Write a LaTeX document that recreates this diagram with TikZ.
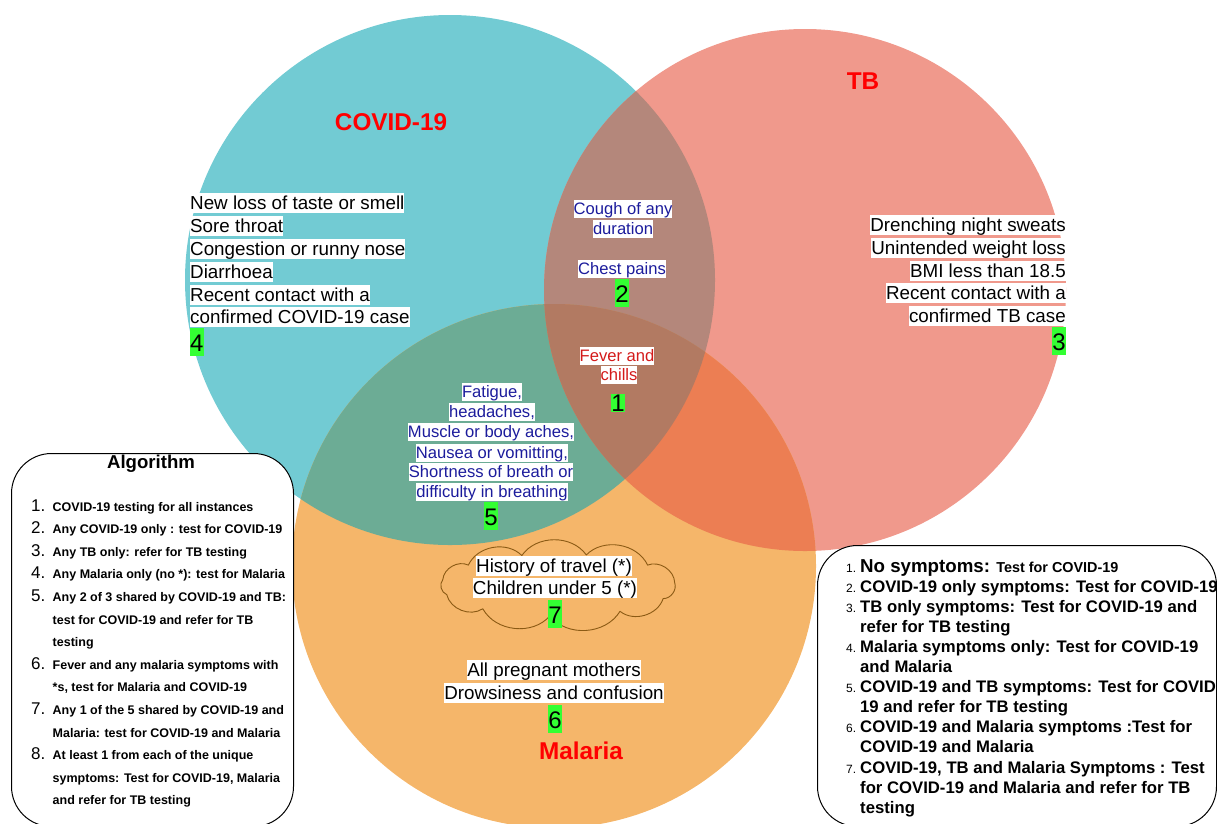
\documentclass[tikz,border=0pt]{standalone}
\usepackage{fontspec}
\setmainfont{Liberation Sans}

\definecolor{covc}{HTML}{72CBD3}
\definecolor{tbc}{HTML}{F0998C}
\definecolor{malc}{HTML}{F5B66A}
\definecolor{ctc}{HTML}{B4877B}
\definecolor{cmc}{HTML}{6CAC95}
\definecolor{tmc}{HTML}{EC7E53}
\definecolor{allc}{HTML}{B27A62}
\definecolor{symblue}{HTML}{1C1C9C}
\definecolor{fevred}{HTML}{D41A1A}
\definecolor{numgreen}{HTML}{33FF33}
\definecolor{cloudline}{HTML}{8B5A14}

\newcommand{\setfs}[1]{\fontsize{#1}{#1}\selectfont}

\begin{document}
\begin{tikzpicture}[x=1pt,y=-1pt,
  blk/.style={inner sep=0pt, fill=white, text=black, font=\setfs{18.8},
    text height=16.5pt, text depth=4.2pt},
  blu/.style={inner sep=0pt, fill=white, text=symblue, font=\setfs{16.6},
    text height=14.6pt, text depth=3.7pt},
  fev/.style={blu, text=fevred},
  num/.style={inner sep=0pt, fill=numgreen, text=black, font=\setfs{24},
    text height=23.3pt, text depth=5pt},
  smallnum/.style={num, text height=17.6pt, text depth=0.4pt},
  title/.style={inner sep=0pt, text=red, font=\bfseries\setfs{24.3}},
  panel/.style={draw=black, fill=white, line width=1pt, rounded corners=40pt,
    inner sep=0pt, anchor=north west},
  algnum/.style={inner sep=0pt, anchor=base west, font=\setfs{17}},
  algtxt/.style={inner sep=0pt, anchor=base west, font=\bfseries\setfs{12.5}},
  keynum/.style={inner sep=0pt, anchor=base west, font=\setfs{12}},
  keytxt/.style={inner sep=0pt, anchor=base west, font=\bfseries\setfs{16.7}},
  puff/.style={bend right=55},
]
\useasboundingbox (0,0) rectangle (1217,823);

% ---- the three sets ----
\coordinate (cC) at (450,280);
\coordinate (cT) at (805,290);
\coordinate (cM) at (554,566);
\def\rCov{265pt}
\def\rTb{261pt}
\def\rMal{262pt}

\fill[covc] (cC) circle[radius=\rCov];
\fill[tbc]  (cT) circle[radius=\rTb];
\fill[malc] (cM) circle[radius=\rMal];
\begin{scope}
  \clip (cC) circle[radius=\rCov];
  \fill[ctc] (cT) circle[radius=\rTb];
  \fill[cmc] (cM) circle[radius=\rMal];
\end{scope}
\begin{scope}
  \clip (cT) circle[radius=\rTb];
  \fill[tmc] (cM) circle[radius=\rMal];
  \clip (cC) circle[radius=\rCov];
  \fill[allc] (cM) circle[radius=\rMal];
\end{scope}

% ---- set titles ----
\node[title] (tcov) at (391,122) {COVID-19};
\node[title] (ttb)  at (863,81)  {TB};
\node[title] (tmal) at (581,751) {Malaria};

% ---- COVID-19 only ----
\node[blk, anchor=west] (c1) at (190,203) {New loss of taste or smell};
\node[blk, anchor=west] (c2) at (190,226) {Sore throat};
\node[blk, anchor=west] (c3) at (190,249) {Congestion or runny nose};
\node[blk, anchor=west] (c4) at (190,272) {Diarrhoea};
\node[blk, anchor=west] (c5) at (190,295) {Recent contact with a\ };
\node[blk, anchor=west] (c6) at (190,317) {confirmed COVID-19 case};
\node[num, anchor=west] (n4) at (190,342) {4};

% ---- TB only ----
\node[blk, anchor=east] (t1) at (1066,225) {Drenching night sweats};
\node[blk, anchor=east] (t2) at (1066,248) {Unintended weight loss};
\node[blk, anchor=east] (t3) at (1066,271) {BMI less than 18.5};
\node[blk, anchor=east] (t4) at (1066,293) {Recent contact with a\ };
\node[blk, anchor=east] (t5) at (1066,316) {confirmed TB case};
\node[num, anchor=east] (n3) at (1066,341) {3};

% ---- COVID-19 and TB ----
\node[blu] (ct1) at (623,209) {Cough of any\ };
\node[blu] (ct2) at (623,229) {duration};
\node[blu] (ct3) at (622,269) {Chest pains};
\node[num] (n2)  at (622,293) {2};

% ---- all three ----
\node[fev] (a1) at (617,356) {Fever and};
\node[fev] (a2) at (619,375) {chills};
\node[smallnum] (n1) at (618,403) {1};

% ---- COVID-19 and Malaria ----
\node[blu] (cm1) at (492,392) {Fatigue,\ };
\node[blu] (cm2) at (492,412) {headaches,\ };
\node[blu] (cm3) at (491,432) {Muscle or body aches,};
\node[blu] (cm4) at (492,453) {Nausea or vomitting,};
\node[blu] (cm5) at (491,472) {Shortness of breath or\ };
\node[blu] (cm6) at (492,492) {difficulty in breathing};
\node[num] (n5)  at (491,516) {5};

% ---- Malaria only: cloud outline built from puffs on an ellipse ----
\coordinate (cloudc) at (558,585);
\foreach \a [count=\k] in {4,40,76,108,140,170,198,230,266,302,334}{
  \path (cloudc) ++(\a:117pt and 31pt) coordinate (cp\k);
}
\draw[cloudline, line width=0.9pt, line join=round]
  (cp1) to[puff] (cp2) to[puff] (cp3) to[puff] (cp4) to[puff] (cp5)
  to[puff] (cp6) to[puff] (cp7) to[puff] (cp8) to[puff] (cp9)
  to[puff] (cp10) to[puff] (cp11) to[puff] (cp1);
\node[blk] (m1) at (554,566) {History of travel (*)};
\node[blk] (m2) at (555,588) {Children under 5 (*)};
\node[num] (n7) at (555,614) {7};
\node[blk] (m3) at (554,670) {All pregnant mothers};
\node[blk] (m4) at (554,693) {Drowsiness and confusion};
\node[num] (n6) at (555,719) {6};

% ---- algorithm panel ----
\node[panel, minimum width=282pt, minimum height=373pt] (algbox) at (11,453) {};
\node[inner sep=0pt, font=\bfseries\setfs{18.6}] (algtitle) at (151,464) {Algorithm};
\foreach \i/\n/\t in {
  0/1./{COVID-19 testing for all instances},
  1/2./{Any COVID-19 only : test for COVID-19},
  2/3./{Any TB only: refer for TB testing},
  3/4./{Any Malaria only (no *): test for Malaria},
  4/5./{Any 2 of 3 shared by COVID-19 and TB:},
  5//{test for COVID-19 and refer for TB},
  6//{testing},
  7/6./{Fever and any malaria symptoms with},
  8//{*s, test for Malaria and COVID-19},
  9/7./{Any 1 of the 5 shared by COVID-19 and},
  10//{Malaria: test for COVID-19 and Malaria},
  11/8./{At least 1 from each of the unique},
  12//{symptoms: Test for COVID-19, Malaria},
  13//{and refer for TB testing}}{
  \node[algnum] (algn\i) at (31,{511+22.6*\i}) {\n};
  \node[algtxt] (algt\i) at (52.5,{511+22.6*\i}) {\t};
}

% ---- key panel ----
\node[panel, minimum width=399pt, minimum height=281pt] (keybox) at (817,545) {};
\node[keynum] (keyn0) at (846,572) {1.};
\node[keytxt] (keyt0) at (860,572) {{\setfs{18.7}No symptoms:} {\setfs{14.4}Test for COVID-19}};
\foreach \i/\n/\t in {
  1/2./{COVID-19 only symptoms: Test for COVID-19},
  2/3./{TB only symptoms: Test for COVID-19 and},
  3//{refer for TB testing},
  4/4./{Malaria symptoms only: Test for COVID-19},
  5//{and Malaria},
  6/5./{COVID-19 and TB symptoms: Test for COVID-},
  7//{19 and refer for TB testing},
  8/6./{COVID-19 and Malaria symptoms :Test for},
  9//{COVID-19 and Malaria},
  10/7./{COVID-19, TB and Malaria Symptoms : Test},
  11//{for COVID-19 and Malaria and refer for TB},
  12//{testing}}{
  \node[keynum] (keyn\i) at (846,{572+20.1*\i}) {\n};
  \node[keytxt] (keyt\i) at (860,{572+20.1*\i}) {\t};
}
\end{tikzpicture}
\end{document}
